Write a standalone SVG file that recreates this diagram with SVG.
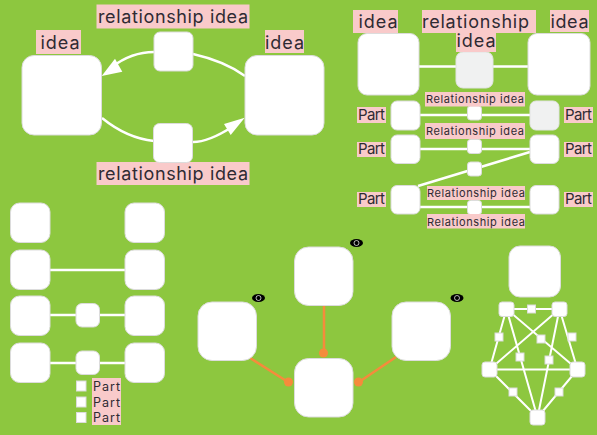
<svg xmlns="http://www.w3.org/2000/svg" width="597" height="435" viewBox="0 0 597 435">
<style>
.n{fill:#fff;stroke:#dcdcdc;stroke-width:1}
.g{fill:#f0f1f1;stroke:#e2e4e4;stroke-width:1}
.l{fill:none;stroke:#fff;stroke-width:2.5}
.t{fill:none;stroke:#fff;stroke-width:2}
.o{fill:none;stroke:#f58b3c;stroke-width:2.5}
.d{fill:#f58b3c}
.b{fill:#f9caca}
.e{fill:none;stroke:#fff;stroke-width:.7}
text{font-family:"Inter","Liberation Sans",sans-serif;fill:#2f2a33;text-anchor:middle}
.x{font-size:18px}
.y{font-size:15px}
.w{font-size:12.500px}
.z{font-size:11px}
</style>
<rect width="597" height="435" fill="#8dc73f"/>
<g id="connectors">
<path class="l" d="M154 52C138 52 125 57 112 67"/>
<path class="l" d="M193 54C215 59 230 65 245 76"/>
<path class="l" d="M102 118C118 131 135 139 154 141"/>
<path class="l" d="M193 142C206 142 218 136 232 127"/>
<polygon fill="#fff" points="101.7,76 115,58.7 122.3,71.7"/>
<polygon fill="#fff" points="244.7,117.7 224,124 230.7,135"/>
<path class="l" d="M419 66.500H528M391 115H559M391 149H559M418 186L530 152M391 207H559"/>
<path class="l" d="M50 270H125M50 315H125M50 363H125"/>
<path class="o" d="M324 305V353M250 358L288 382M396 357L359 382"/>
<circle class="d" cx="323.500" cy="353" r="4.500"/>
<circle class="d" cx="288.500" cy="382" r="4.500"/>
<circle class="d" cx="358.500" cy="382" r="4.500"/>
<path class="t" d="M506.500 309H559.500L577.500 369.500H489.500ZM506.500 309L577.500 369.500M559.500 309L489.500 369.500M506.500 309L537.500 417.500M559.500 309L537.500 417.500M489.500 369.500L537.500 417.500M577.500 369.500L537.500 417.500"/>
</g>
<g id="labels-top-left">
<rect class="b" x="96.500" y="4.500" width="153" height="24"/>
<text class="x" x="173" y="23" textLength="150">relationship idea</text>
<rect class="b" x="36" y="30" width="45" height="24"/>
<text class="x" x="60" y="49" textLength="39">idea</text>
<rect class="b" x="265" y="30" width="39" height="23"/>
<text class="x" x="284.500" y="49" textLength="39">idea</text>
<rect class="b" x="96.500" y="162" width="153" height="23"/>
<text class="x" x="173" y="180" textLength="150">relationship idea</text>
</g>
<g id="tl-left"><rect class="n" x="22" y="55.500" width="79.500" height="79.500" rx="12"/></g>
<g id="tl-right"><rect class="n" x="245" y="55.500" width="79" height="79.500" rx="12"/></g>
<g id="tl-top"><rect class="n" x="154" y="32" width="39" height="39" rx="6"/></g>
<g id="tl-bottom"><rect class="n" x="153.500" y="123.500" width="39" height="39" rx="6"/></g>
<g id="tr-left"><rect class="n" x="358" y="33.500" width="61" height="61.500" rx="9"/>
<rect class="b" x="353" y="10" width="45" height="23"/><text class="x" x="378" y="28" textLength="39">idea</text></g>
<g id="tr-mid"><rect class="g" x="456" y="52" width="37" height="36" rx="7"/>
<rect class="b" x="422" y="10" width="114" height="23"/><rect class="b" x="456" y="33" width="40" height="19"/>
<text class="x" x="475.500" y="28" textLength="107">relationship</text><text class="x" x="476" y="47" textLength="39">idea</text></g>
<g id="tr-right"><rect class="n" x="528" y="33.500" width="62" height="61.500" rx="9"/>
<rect class="b" x="550" y="10" width="39" height="22" /><text class="x" x="569.500" y="28" textLength="38">idea</text></g>
<g id="row1">
<rect class="n" x="391" y="101" width="29" height="29" rx="6"/><rect class="g" x="530" y="101" width="29" height="29" rx="6"/><rect class="n" x="467.500" y="106" width="14" height="14" rx="3"/>
<rect class="b" x="425" y="92" width="100" height="14.500"/><text class="z" x="475" y="103" textLength="98">Relationship idea</text>
<rect class="b" x="357" y="107" width="29" height="16"/><text class="y" x="371.500" y="120" textLength="27">Part</text>
<rect class="b" x="564" y="107" width="29" height="16"/><text class="y" x="578.500" y="120" textLength="27">Part</text>
<rect class="b" x="425" y="123" width="100" height="16"/><text class="z" x="475" y="135" textLength="98">Relationship idea</text>
</g>
<g id="row2">
<rect class="n" x="391" y="135" width="29" height="28.500" rx="6"/><rect class="n" x="530" y="135" width="29" height="28.500" rx="6"/><rect class="n" x="467.500" y="139.500" width="14" height="14" rx="3"/>
<rect class="n" x="467.500" y="162" width="14" height="14" rx="3"/>
<rect class="b" x="357" y="142" width="29" height="15"/><text class="y" x="371.500" y="154" textLength="27">Part</text>
<rect class="b" x="564" y="142" width="29" height="15"/><text class="y" x="578.500" y="154" textLength="27">Part</text>
</g>
<g id="row3">
<rect class="n" x="391" y="185.500" width="29" height="28.500" rx="6"/><rect class="n" x="530" y="185.500" width="29" height="28.500" rx="6"/><rect class="n" x="467.500" y="200.500" width="14" height="14" rx="3"/>
<rect class="b" x="427" y="186" width="98" height="14"/><text class="z" x="476" y="197" textLength="98">Relationship idea</text>
<rect class="b" x="427" y="214" width="98" height="14.500"/><text class="z" x="476" y="225.500" textLength="98">Relationship idea</text>
<rect class="b" x="357" y="192" width="29" height="15"/><text class="y" x="371.500" y="204" textLength="27">Part</text>
<rect class="b" x="564" y="192" width="29" height="15"/><text class="y" x="578.500" y="204" textLength="27">Part</text>
</g>
<g id="bl-nodes">
<rect class="n" x="10.500" y="203" width="39.500" height="39.500" rx="9"/><rect class="n" x="125" y="203" width="39.500" height="39.500" rx="9"/>
<rect class="n" x="10.500" y="250" width="39.500" height="39.500" rx="9"/><rect class="n" x="125" y="250" width="39.500" height="39.500" rx="9"/>
<rect class="n" x="10.500" y="296" width="39.500" height="39.500" rx="9"/><rect class="n" x="125" y="296" width="39.500" height="39.500" rx="9"/>
<rect class="n" x="10.500" y="343" width="39.500" height="39.500" rx="9"/><rect class="n" x="125" y="343" width="39.500" height="39.500" rx="9"/>
<rect class="n" x="76" y="303.500" width="23.500" height="23.500" rx="6"/><rect class="n" x="76" y="351" width="23.500" height="23.500" rx="6"/>
</g>
<g id="bl-legend">
<rect class="b" x="92" y="378" width="29" height="47"/>
<rect class="n" x="76.500" y="381" width="9.500" height="10"/><rect class="n" x="76.500" y="397" width="9.500" height="10"/><rect class="n" x="76.500" y="412.500" width="9.500" height="10"/>
<text class="w" x="106.500" y="391" textLength="27">Part</text><text class="w" x="106.500" y="406.500" textLength="27">Part</text><text class="w" x="106.500" y="422" textLength="27">Part</text>
</g>
<g id="c-top"><rect class="n" x="294.500" y="247" width="58.500" height="58.500" rx="14"/>
<ellipse cx="356.500" cy="243" rx="6.500" ry="4"/><circle class="e" cx="356.500" cy="243" r="2.500"/></g>
<g id="c-left"><rect class="n" x="198" y="302" width="58.500" height="58.500" rx="14"/>
<ellipse cx="258.500" cy="298" rx="6.500" ry="4"/><circle class="e" cx="258.500" cy="298" r="2.500"/></g>
<g id="c-right"><rect class="n" x="392" y="302" width="58.500" height="58.500" rx="14"/>
<ellipse cx="457" cy="298" rx="6.500" ry="4"/><circle class="e" cx="457" cy="298" r="2.500"/></g>
<g id="c-bottom"><rect class="n" x="294.500" y="358.500" width="58.500" height="58.500" rx="14"/></g>
<g id="r-big"><rect class="n" x="509" y="246" width="51.500" height="51" rx="11"/></g>
<g id="r-graph">
<rect class="n" x="499" y="302" width="15" height="14.500" rx="3"/><rect class="n" x="552" y="302" width="15" height="14.500" rx="3"/>
<rect class="n" x="482" y="362" width="15" height="15" rx="3"/><rect class="n" x="570" y="362" width="15" height="15" rx="3"/>
<rect class="n" x="530" y="410" width="15" height="15" rx="3"/>
<rect class="n" x="527.500" y="305" width="8" height="8"/><rect class="n" x="495" y="333" width="8" height="8"/><rect class="n" x="568" y="333" width="8" height="8"/>
<rect class="n" x="537" y="335" width="8" height="8"/><rect class="n" x="516" y="353" width="8" height="8"/><rect class="n" x="545" y="356" width="8" height="8"/>
<rect class="n" x="509" y="388" width="8" height="8"/><rect class="n" x="555" y="388" width="8" height="8"/>
</g>
</svg>
